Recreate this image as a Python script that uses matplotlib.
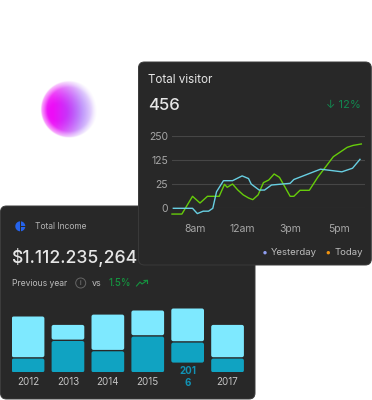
#!/usr/bin/env python3

import numpy as np
import matplotlib
matplotlib.use("Agg")
import matplotlib.pyplot as plt
from matplotlib.patches import FancyBboxPatch, Circle, Wedge, Rectangle

plt.rcParams["font.family"] = ["Inter", "DejaVu Sans"]

W, H = 372, 400

# line chart: x is a time slot (9 slots between ticks), y is a grid level (ticks are evenly spaced)
TICK_SLOTS = [4, 13, 22, 31]
TICK_TIMES = ["8am", "12am", "3pm", "5pm"]
LEVELS = [0, 1, 2, 3]
LEVEL_LABELS = ["0", "25", "125", "250"]

TODAY_X = [-0.25, 1.6, 3.6, 5, 6.4, 8.6, 9.6, 10.1, 11.1, 12.1, 13.1, 14.1, 14.9, 15.9,
           16.9, 17.9, 18.9, 19.9, 20.9, 21.9, 22.6, 23.75, 25.5, 27.1, 30, 32.6, 33.7, 35.25]
TODAY_Y = [-0.24, -0.24, 0.5, 0.22, 0.5, 0.5, 1, 0.875, 1.01, 0.76, 0.56, 0.43, 0.36, 0.56,
           1.07, 1.18, 1.43, 1.29, 0.9, 0.5, 0.5, 0.75, 0.75, 1.3, 2.15, 2.54, 2.62, 2.68]
YESTERDAY_X = [0, 3.6, 4.5, 5.6, 6.6, 7.4, 8.1, 9.4, 11.1, 12.9, 14.1, 14.6, 16.1, 17.1,
               18.4, 21.9, 22.6, 27.6, 31.6, 33.6, 35]
YESTERDAY_Y = [0, 0, -0.22, -0.12, -0.12, 0, 0.69, 1.15, 1.15, 1.35, 1.24, 1.01, 0.76, 0.76,
               0.97, 1.04, 1.2, 1.63, 1.52, 1.67, 2.04]

# bar chart
YEARS = ["2012", "2013", "2014", "2015", "201\n6", "2017"]
LOWER = [13.7, 31.3, 21, 35.7, 20, 13.7]
UPPER = [40.7, 14.7, 35.3, 24.7, 32.7, 32.3]
LIFT = [0, 0, 0, 0, 9.7, 0]

CARD = "#282828"
EDGE = "#3a3a3a"
GRID = "#464646"
TEXT = "#e6e6e6"
MUTED = "#a6a6a6"
GREEN_TXT = "#12864f"
TODAY_C = "#66cc0a"
YEST_C = "#68cfe2"
LIGHT = "#7ee9ff"
DARK = "#10a3c2"


def px_axes(fig, left, top, right, bottom, zorder):
    ax = fig.add_axes([left / W, 1 - bottom / H, (right - left) / W, (bottom - top) / H], zorder=zorder)
    ax.patch.set_visible(False)
    return ax


def add_card(ax, left, top, right, bottom, zorder):
    ax.add_patch(FancyBboxPatch((left, top), right - left, bottom - top,
                                boxstyle="round,pad=0,rounding_size=6",
                                fc=CARD, ec=EDGE, lw=0.7, zorder=zorder))


def add_blob(ax, cx, cy, r):
    xs, ys = np.meshgrid(np.arange(cx - r - 2, cx + r + 2, 0.5), np.arange(cy - r - 2, cy + r + 2, 0.5))
    dist = np.hypot(xs - cx, ys - cy)
    focus = np.hypot(xs - (cx - 11), ys - (cy + 3))
    mix = np.clip((xs - (cx - 16)) / 30, 0, 1)[..., None]
    rgb = (1 - mix) * np.array([0.93, 0.05, 0.97]) + mix * np.array([0.62, 0.38, 0.98])
    rim = 0.4 + 0.6 * np.clip((r - dist) / 6, 0, 1)
    alpha = np.clip(1.05 - (focus / 38) ** 2, 0, 1) * rim * np.clip(r - dist + 0.5, 0, 1)
    ax.imshow(np.dstack([rgb, alpha]), extent=(cx - r - 2, cx + r + 2, cy + r + 2, cy - r - 2),
              zorder=1, interpolation="bilinear", aspect="auto")


def main():
    fig = plt.figure(figsize=(W / 100, H / 100), dpi=100, facecolor="white")
    bg = fig.add_axes([0, 0, 1, 1], zorder=0)
    add_blob(bg, 69, 109, 28)
    bg.set_xlim(0, W)
    bg.set_ylim(H, 0)
    bg.axis("off")

    # income card goes under the visitor card
    add_card(bg, 0.5, 206, 255, 399, 2)
    bg.add_patch(Wedge((20.3, 226.3), 5, 0, 360, fc="#2563eb", ec="none", zorder=3))
    bg.add_patch(Rectangle((19.6, 221), 1.1, 10.6, fc=CARD, ec="none", zorder=4))
    bg.add_patch(Rectangle((20.5, 225.6), 5.2, 1.1, fc=CARD, ec="none", zorder=4))
    bg.text(35.2, 226.8, "Total Income", color="#b4b4b4", fontsize=6.1, va="center", zorder=3)
    bg.text(11.4, 257.7, "$1.112.235,264", color=TEXT, fontsize=12.7, fontweight="medium", va="center", zorder=3)
    bg.text(11.6, 283.3, "Previous year", color="#bcbcbc", fontsize=6.2, va="center", zorder=3)
    bg.add_patch(Circle((80.7, 283), 5, fc="none", ec="#666666", lw=0.7, zorder=3))
    bg.text(80.7, 283, "i", color="#888888", fontsize=5, ha="center", va="center", zorder=3)
    bg.text(92, 283.3, "vs", color="#bcbcbc", fontsize=6.4, va="center", zorder=3)
    bg.text(108.5, 283.3, "1.5%", color="#15933f", fontsize=7, fontweight="medium", va="center", zorder=3)
    bg.plot([136.5, 140, 142, 147], [286, 282, 284, 280.5], color="#15933f", lw=0.8, zorder=3)
    bg.plot([144, 147.5, 147.5], [280.5, 280.3, 283.5], color="#15933f", lw=0.8, zorder=3)

    # visitor card text
    add_card(bg, 138.5, 62, 371.3, 265, 5)
    bg.text(148, 79.8, "Total visitor", color=TEXT, fontsize=8.4, va="center", zorder=6)
    bg.text(147.8, 105, "456", color=TEXT, fontsize=12.1, fontweight="medium", va="center", zorder=6)
    bg.text(361, 105, "↓ 12%", color=GREEN_TXT, fontsize=8.1, ha="right", va="center", zorder=6)
    bg.add_patch(Circle((265, 252.7), 1.7, fc="#8f9df0", ec="none", zorder=6))
    bg.text(271.2, 252.9, "Yesterday", color="#bdbdbd", fontsize=6.9, va="center", zorder=6)
    bg.add_patch(Circle((328.3, 252.7), 1.7, fc="#f0930f", ec="none", zorder=6))
    bg.text(334.2, 252.9, "Today", color="#bdbdbd", fontsize=6.9, va="center", zorder=6)

    # stacked bars, one data unit is one pixel
    ax_bar = px_axes(fig, 11.7, 305, 243.7, 372.3, 1)
    centers = 16.35 + 39.9 * np.arange(len(YEARS))
    lower_bars = ax_bar.bar(centers, LOWER, 32.7, bottom=LIFT, color=DARK)
    upper_bottom = np.array(LIFT) + np.array(LOWER) + 1.4
    upper_bars = ax_bar.bar(centers, UPPER, 32.7, bottom=upper_bottom, color=LIGHT)
    for bars, color in ((lower_bars, DARK), (upper_bars, LIGHT)):
        for b in bars:
            b.set_visible(False)
            ax_bar.add_patch(FancyBboxPatch((b.get_x(), b.get_y()), b.get_width(), b.get_height(),
                                            boxstyle="round,pad=0,rounding_size=2", fc=color, ec="none"))
    ax_bar.set_xlim(0, 232)
    ax_bar.set_ylim(0, 67.3)
    ax_bar.axis("off")
    for c, year in zip(centers, YEARS):
        wrapped = "\n" in year
        bg.text(c + 11.7, 377.4 if wrapped else 382.3, year, ha="center", va="center", linespacing=1.25,
                color="#1192b5" if wrapped else "#c4c4c4", fontsize=7,
                fontweight="bold" if wrapped else "normal", zorder=3)

    # line chart
    ax = px_axes(fig, 172, 136.3, 365, 208.3, 6)
    ax.plot(TODAY_X, TODAY_Y, color=TODAY_C, lw=1.0, clip_on=False, zorder=3)
    ax.plot(YESTERDAY_X, YESTERDAY_Y, color=YEST_C, lw=1.0, clip_on=False, zorder=4)
    ax.set_xlim(-0.25, 35.94)
    ax.set_ylim(0, 3)
    ax.set_yticks(LEVELS, LEVEL_LABELS)
    ax.set_xticks(TICK_SLOTS, TICK_TIMES)
    ax.grid(True, axis="y", color=GRID, lw=0.8)
    ax.set_axisbelow(True)
    ax.tick_params(length=0, labelcolor=MUTED, labelsize=7.5)
    ax.tick_params(axis="y", pad=3.0)
    ax.tick_params(axis="x", pad=11.3)
    for spine in ax.spines.values():
        spine.set_visible(False)

    fig.savefig("out.png", dpi=100)
    plt.close(fig)


if __name__ == "__main__":
    main()
